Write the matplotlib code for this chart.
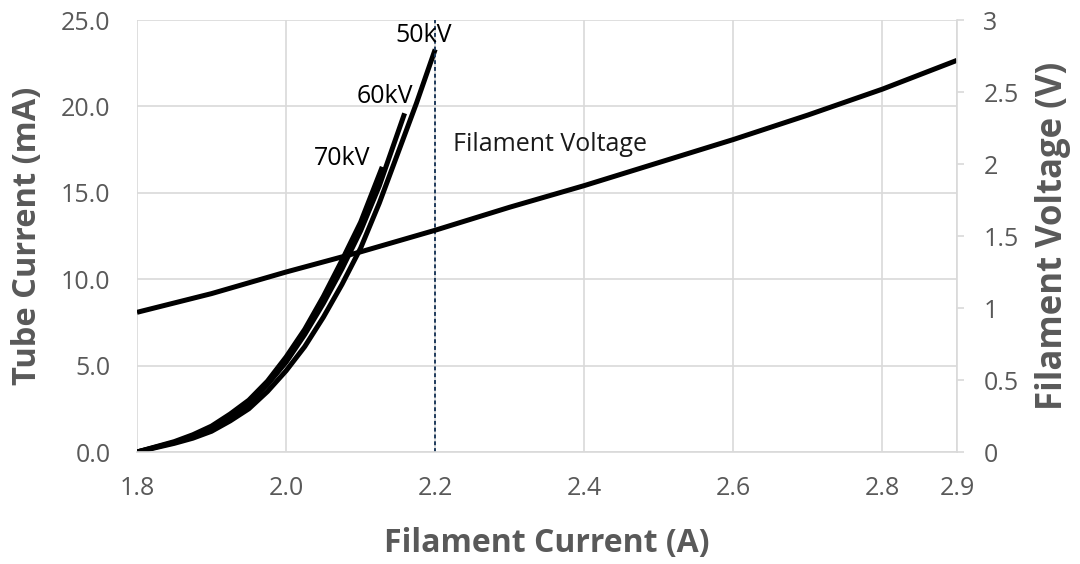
import matplotlib
import numpy as np

matplotlib.use("Agg")
import matplotlib.pyplot as plt

plt.rcParams["font.family"] = ["Open Sans", "DejaVu Sans"]

GRAY = "#595959"
GRID = "#d9d9d9"

# tube current curves (left axis, mA)
i_50kv = [1.80, 1.825, 1.85, 1.875, 1.90, 1.925, 1.95, 1.975, 2.00, 2.025, 2.05, 2.075, 2.10, 2.125, 2.15, 2.175, 2.20]
ma_50kv = [0.0, 0.25, 0.5, 0.8, 1.2, 1.8, 2.5, 3.5, 4.7, 6.1, 7.8, 9.7, 11.8, 14.4, 17.3, 20.2, 23.3]

i_60kv = [1.80, 1.825, 1.85, 1.875, 1.90, 1.925, 1.95, 1.975, 2.00, 2.025, 2.05, 2.075, 2.10, 2.125, 2.159]
ma_60kv = [0.0, 0.28, 0.55, 0.9, 1.4, 2.0, 2.8, 3.9, 5.2, 6.8, 8.6, 10.6, 12.8, 15.4, 19.6]

i_70kv = [1.80, 1.825, 1.85, 1.875, 1.90, 1.925, 1.95, 1.975, 2.00, 2.025, 2.05, 2.075, 2.10, 2.129]
ma_70kv = [0.0, 0.3, 0.6, 1.0, 1.5, 2.2, 3.0, 4.1, 5.5, 7.1, 9.0, 11.1, 13.3, 16.5]

# filament voltage (right axis, V)
i_fil = [1.8, 1.9, 2.0, 2.1, 2.2, 2.3, 2.4, 2.5, 2.6, 2.7, 2.8, 2.9]
v_fil = [0.97, 1.10, 1.25, 1.39, 1.54, 1.70, 1.85, 2.01, 2.17, 2.34, 2.52, 2.72]

x_ticks = [1.8, 2.0, 2.2, 2.4, 2.6, 2.8, 2.9]
y_ticks = [0, 5, 10, 15, 20, 25]
v_ticks = [0, 0.5, 1, 1.5, 2, 2.5, 3]
v_tick_labels = ["0", "0.5", "1", "1.5", "2", "2.5", "3"]

fig = plt.figure(figsize=(10.8, 5.64), dpi=100)
ax = fig.add_axes([137 / 1080, 112 / 564, 820 / 1080, 432 / 564])
ax2 = ax.twinx()

ax.set_xlim(1.8, 2.9)
ax.set_ylim(0, 25)
ax2.set_ylim(0, 3)

# grid
ax.set_xticks(x_ticks)
ax.set_yticks(y_ticks)
ax.grid(True, color=GRID, linewidth=1.2)
ax.set_axisbelow(True)

for a in (ax, ax2):
    for side in ["top", "left", "right"]:
        a.spines[side].set_visible(False)
ax.spines["bottom"].set_color(GRID)
ax.spines["bottom"].set_linewidth(1.2)
ax2.spines["bottom"].set_visible(False)
ax2.spines["right"].set_visible(True)
ax2.spines["right"].set_color(GRID)
ax2.spines["right"].set_linewidth(1.2)

ax.set_xticklabels([f"{t:.1f}" for t in x_ticks])
ax.set_yticklabels([f"{t:.1f}" for t in y_ticks])
ax.tick_params(axis="x", length=0, labelsize=18, labelcolor=GRAY, pad=17)
ax.tick_params(axis="y", length=0, labelsize=18, labelcolor=GRAY, pad=19)

ax2.set_yticks(v_ticks)
ax2.set_yticklabels(v_tick_labels)
ax2.tick_params(axis="y", length=5, width=1.2, color=GRID, labelsize=18,
                labelcolor=GRAY, pad=14)

# curves
lw = 3.6
ax.plot(i_70kv, ma_70kv, color="black", linewidth=lw, solid_capstyle="butt")
ax.plot(i_60kv, ma_60kv, color="black", linewidth=lw, solid_capstyle="butt")
ax.plot(i_50kv, ma_50kv, color="black", linewidth=lw, solid_capstyle="butt")
ax2.plot(i_fil, v_fil, color="black", linewidth=lw, solid_capstyle="butt")

ax.axvline(2.2, color="#1f3b5c", linewidth=1.4, linestyle=(0, (2, 1.5)))

ax.text(2.184, 24.1, "50kV", fontsize=18, ha="center", va="center")
ax.text(2.133, 20.6, "60kV", fontsize=18, ha="center", va="center")
ax.text(2.075, 17.0, "70kV", fontsize=18, ha="center", va="center")
ax.text(2.224, 17.8, "Filament Voltage", fontsize=18, color="#1a1a1a",
        ha="left", va="center")

ax.set_xlabel("Filament Current (A)", fontsize=23, fontweight="bold",
              color=GRAY, va="center")
ax.xaxis.set_label_coords(0.5, -0.212)
ax.set_ylabel("Tube Current (mA)", fontsize=23.5, fontweight="bold",
              color=GRAY, va="center")
ax.yaxis.set_label_coords(-0.133, 0.5)
ax2.set_ylabel("Filament Voltage (V)", fontsize=25, fontweight="bold",
               color=GRAY, va="center")
ax2.yaxis.set_label_coords(1.117, 0.5)

fig.savefig("out.png", dpi=100)
